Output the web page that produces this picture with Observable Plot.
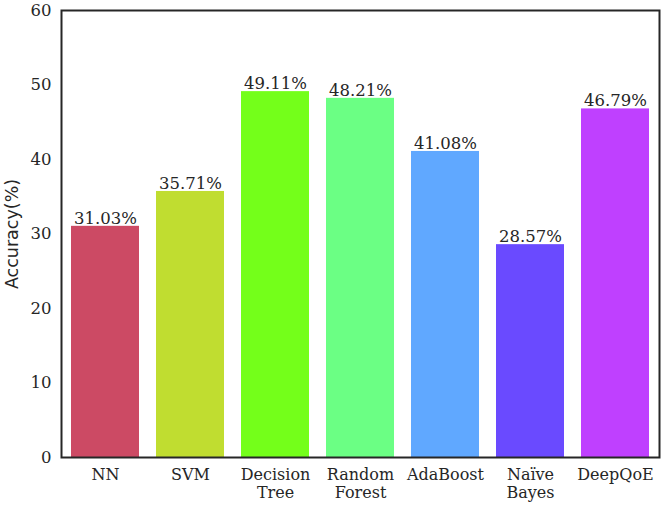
<!DOCTYPE html>
<html><head><meta charset="utf-8">
<script src="https://cdn.jsdelivr.net/npm/d3@7"></script>
<script src="https://cdn.jsdelivr.net/npm/@observablehq/plot@0.6"></script>
<style>
body{margin:0;background:#fff;}
svg{font-family:"DejaVu Serif",serif;}
</style></head><body>
<div id="chart"></div>
<script>
const models = ["NN","SVM","Decision\nTree","Random\nForest","AdaBoost","Naïve\nBayes","DeepQoE"];
const accuracy = [31.03,35.71,49.11,48.21,41.08,28.57,46.79];
const colors = ["#cc4a64","#c0dd30","#74ff1a","#6bff84","#60a8ff","#6a4aff","#bf40ff"];
const yTicks = [0,10,20,30,40,50,60];
const data = models.map((m,i)=>({model:m, acc:accuracy[i], color:colors[i]}));

const chart = Plot.plot({
  width:665, height:506,
  marginLeft:61, marginRight:6, marginTop:10, marginBottom:49,
  style:{fontFamily:"DejaVu Serif", fontSize:"16px", color:"#262626", background:"#fff"},
  x:{domain:models, paddingInner:0.2, paddingOuter:0.1, label:null, tickSize:0, tickPadding:8},
  y:{domain:[0,60], ticks:yTicks, label:null, tickSize:0, tickPadding:10},
  marks:[
    Plot.barY(data,{x:"model", y:"acc", fill:"color"}),
    Plot.text(data,{x:"model", y:"acc", text:d=>d.acc.toFixed(2)+"%", lineAnchor:"bottom", dy:-2.5, fontSize:16.5, fill:"#262626"}),
    Plot.axisY({ticks:yTicks, tickSize:0, tickPadding:10, label:null, fontSize:16.5}),
    Plot.axisX({tickSize:0, tickPadding:10, label:null, fontSize:16, lineHeight:1.12}),
    Plot.frame({stroke:"#262626", strokeWidth:2}),
    Plot.text(["Accuracy(%)"],{frameAnchor:"left", dx:-49, rotate:-90, textAnchor:"middle", fontSize:17.5, fontFamily:"DejaVu Sans", fill:"#262626"})
  ]
});
document.getElementById("chart").appendChild(chart);
</script></body></html>
